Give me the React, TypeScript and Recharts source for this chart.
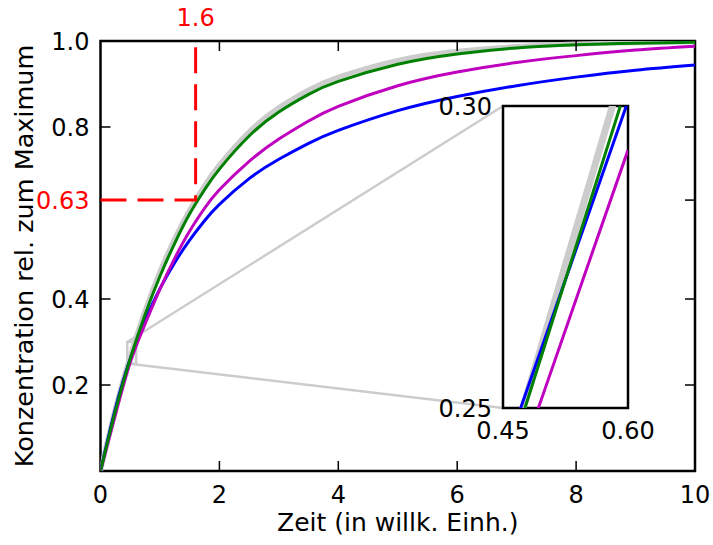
import { LineChart, Line, XAxis, YAxis, ReferenceArea, CartesianGrid } from "recharts";

// time axis (willk. Einh.) and the four curves
const TIME = [0, 0.25, 0.5, 0.75, 1, 1.25, 1.5, 1.75, 2, 2.5, 3, 3.5, 4, 5, 6, 7, 8, 9, 10];
const GRAY = [0, 0.145, 0.267, 0.373, 0.464, 0.541, 0.607, 0.664, 0.712, 0.789, 0.845, 0.886, 0.916, 0.955, 0.976, 0.987, 0.993, 0.996, 0.998];
const GREEN = [0, 0.14, 0.261, 0.364, 0.453, 0.53, 0.598, 0.654, 0.702, 0.779, 0.835, 0.876, 0.906, 0.946, 0.97, 0.984, 0.991, 0.995, 0.997];
const MAGENTA = [0, 0.13, 0.252, 0.342, 0.423, 0.495, 0.558, 0.611, 0.654, 0.72, 0.772, 0.814, 0.848, 0.896, 0.928, 0.95, 0.966, 0.979, 0.988];
const BLUE = [0, 0.145, 0.261, 0.35, 0.424, 0.485, 0.537, 0.582, 0.62, 0.68, 0.725, 0.762, 0.792, 0.838, 0.871, 0.896, 0.916, 0.932, 0.944];

// zoomed window (inset)
const ZOOM_T = [0.45, 0.5, 0.55, 0.6];
const ZOOM_GRAY = [0.2388, 0.2621, 0.2854, 0.3087];
const ZOOM_GREEN = [0.2385, 0.2603, 0.2822, 0.304];
const ZOOM_MAGENTA = [0.2332, 0.253, 0.2729, 0.2927];
const ZOOM_BLUE = [0.2416, 0.2614, 0.2811, 0.3008];
const ZOOM_X = [0.45, 0.6];
const ZOOM_Y = [0.25, 0.3];

// ticks + 63 % marker
const X_TICKS = [0, 2, 4, 6, 8, 10];
const Y_TICKS = [0.2, 0.4, 0.63, 0.8, 1.0];
const MARK_T = 1.6;
const MARK_V = 0.63;

const FONT = "'DejaVu Sans', sans-serif";
const GRAY_C = "#cccccc";
const GREEN_C = "#008000";
const MAGENTA_C = "#bf00bf";
const BLUE_C = "#0000ff";
const RED = "#ff0000";

// layout of the main axes (page pixels)
const PL = 100.5, PR = 695, PT = 41, PB = 471;
const sx = (t: number) => PL + (t / 10) * (PR - PL);
const sy = (v: number) => PB - v * (PB - PT);

// layout of the inset axes
const IL = 503, IR = 628, IT = 106, IB = 408;
const INSET_YW = 85;
const INSET_TOP = 14;
const INSET_XH = 40;
const INSET_RIGHT = 40;

const rows = TIME.map((t, i) => ({
  t,
  gray: GRAY[i],
  green: GREEN[i],
  magenta: MAGENTA[i],
  blue: BLUE[i],
}));

const zoomRows = ZOOM_T.map((t, i) => ({
  t,
  gray: ZOOM_GRAY[i],
  green: ZOOM_GREEN[i],
  magenta: ZOOM_MAGENTA[i],
  blue: ZOOM_BLUE[i],
}));

const markPath = [
  { t: 0, mark: MARK_V },
  { t: MARK_T, mark: MARK_V },
  { t: MARK_T, mark: 1 },
];

function BottomTick(props: any) {
  const { x, y, payload } = props;
  const v = payload.value;
  const inner = v !== 0 && v !== 10;
  return (
    <g>
      {inner && <line x1={x} y1={y} x2={x} y2={y - 10} stroke="#000" strokeWidth={1.5} />}
      {inner && <line x1={x} y1={PT} x2={x} y2={PT + 10} stroke="#000" strokeWidth={1.5} />}
      <text x={x} y={y + 32} textAnchor="middle" fontSize={24} fontFamily={FONT} fill="#000">
        {String(v)}
      </text>
    </g>
  );
}

function LeftTick(props: any) {
  const { x, y, payload } = props;
  const v = payload.value;
  const red = v === MARK_V;
  const c = red ? RED : "#000";
  const inner = v !== 1;
  return (
    <g>
      {inner && <line x1={x} y1={y} x2={x + 10} y2={y} stroke={c} strokeWidth={1.5} />}
      {inner && <line x1={PR} y1={y} x2={PR - 10} y2={y} stroke="#000" strokeWidth={1.5} />}
      <text x={x - 11} y={y} dy="0.36em" textAnchor="end" fontSize={24} fontFamily={FONT} fill={c}>
        {v === 1 ? "1.0" : String(v)}
      </text>
    </g>
  );
}

function InsetLeftTick(props: any) {
  const { x, y, payload } = props;
  return (
    <text x={x - 11} y={y} dy="0.36em" textAnchor="end" fontSize={24} fontFamily={FONT} fill="#000">
      {payload.value.toFixed(2)}
    </text>
  );
}

function InsetBottomTick(props: any) {
  const { x, y, payload } = props;
  return (
    <text x={x} y={y + 31} textAnchor="middle" fontSize={24} fontFamily={FONT} fill="#000">
      {payload.value.toFixed(2)}
    </text>
  );
}

export default function App() {
  const rx0 = sx(ZOOM_X[0]);
  const rx1 = sx(ZOOM_X[1]);
  const ry0 = sy(ZOOM_Y[0]);
  const ry1 = sy(ZOOM_Y[1]);
  const insetW = INSET_YW + (IR - IL) + INSET_RIGHT;
  const insetH = INSET_TOP + (IB - IT) + INSET_XH;

  return (
    <div style={{ position: "absolute", left: 0, top: 0, width: 713, height: 545, background: "#fff" }}>
      {/* annotations under the main chart: zoom box, connectors, labels */}
      <svg width={713} height={545} style={{ position: "absolute", left: 0, top: 0 }}>
        <rect x={rx0} y={ry1} width={rx1 - rx0} height={ry0 - ry1} fill="none" stroke={GRAY_C} strokeWidth={2.5} />
        <line x1={rx0} y1={ry1} x2={IL} y2={IT} stroke={GRAY_C} strokeWidth={2.5} />
        <line x1={rx0} y1={ry0} x2={IL} y2={IB} stroke={GRAY_C} strokeWidth={2.5} />
        <text x={sx(MARK_T)} y={26} textAnchor="middle" fontSize={24} fontFamily={FONT} fill={RED}>
          {String(MARK_T)}
        </text>
        <text x={(PL + PR) / 2} y={531} textAnchor="middle" fontSize={25} fontFamily={FONT} fill="#000">
          Zeit (in willk. Einh.)
        </text>
        <text
          x={33}
          y={(PT + PB) / 2}
          textAnchor="middle"
          fontSize={25.5}
          fontFamily={FONT}
          fill="#000"
          transform={`rotate(-90 33 ${(PT + PB) / 2})`}
        >
          Konzentration rel. zum Maximum
        </text>
      </svg>

      <div style={{ position: "absolute", left: 0, top: 0 }}>
        <LineChart width={713} height={545} data={rows} margin={{ top: PT, right: 713 - PR, bottom: 545 - PB - 30, left: 0 }}>
          <XAxis
            dataKey="t"
            type="number"
            domain={[0, 10]}
            allowDataOverflow
            ticks={X_TICKS}
            interval={0}
            height={30}
            axisLine={false}
            tickLine={false}
            tickSize={0}
            tickMargin={0}
            tick={BottomTick}
          />
          <YAxis
            type="number"
            domain={[0, 1]}
            allowDataOverflow
            ticks={Y_TICKS}
            interval={0}
            width={PL}
            axisLine={false}
            tickLine={false}
            tickSize={0}
            tickMargin={0}
            tick={LeftTick}
          />
          <ReferenceArea x1={0} x2={10} y1={0} y2={1} fill="none" stroke="#000" strokeWidth={2.5} ifOverflow="visible" />
          <Line type="natural" dataKey="gray" stroke={GRAY_C} strokeWidth={5} dot={false} isAnimationActive={false} />
          <Line type="natural" dataKey="blue" stroke={BLUE_C} strokeWidth={3} dot={false} isAnimationActive={false} />
          <Line type="natural" dataKey="magenta" stroke={MAGENTA_C} strokeWidth={3} dot={false} isAnimationActive={false} />
          <Line type="natural" dataKey="green" stroke={GREEN_C} strokeWidth={3} dot={false} isAnimationActive={false} />
          <Line
            data={markPath}
            type="linear"
            dataKey="mark"
            stroke={RED}
            strokeWidth={3}
            strokeDasharray="26 11"
            dot={false}
            isAnimationActive={false}
          />
        </LineChart>
      </div>

      {/* inset */}
      <div style={{ position: "absolute", left: IL - INSET_YW, top: IT - INSET_TOP }}>
        <LineChart
          width={insetW}
          height={insetH}
          data={zoomRows}
          margin={{ top: INSET_TOP, right: INSET_RIGHT, bottom: 0, left: 0 }}
        >
          <CartesianGrid fill="#fff" horizontal={false} vertical={false} />
          <XAxis
            dataKey="t"
            type="number"
            domain={[ZOOM_X[0], ZOOM_X[1]]}
            allowDataOverflow
            ticks={ZOOM_X}
            interval={0}
            height={INSET_XH}
            axisLine={false}
            tickLine={false}
            tickSize={0}
            tickMargin={0}
            tick={InsetBottomTick}
          />
          <YAxis
            type="number"
            domain={[ZOOM_Y[0], ZOOM_Y[1]]}
            allowDataOverflow
            ticks={ZOOM_Y}
            interval={0}
            width={INSET_YW}
            axisLine={false}
            tickLine={false}
            tickSize={0}
            tickMargin={0}
            tick={InsetLeftTick}
          />
          <Line type="linear" dataKey="gray" stroke={GRAY_C} strokeWidth={7} dot={false} isAnimationActive={false} />
          <Line type="linear" dataKey="blue" stroke={BLUE_C} strokeWidth={3} dot={false} isAnimationActive={false} />
          <Line type="linear" dataKey="magenta" stroke={MAGENTA_C} strokeWidth={3} dot={false} isAnimationActive={false} />
          <Line type="linear" dataKey="green" stroke={GREEN_C} strokeWidth={3} dot={false} isAnimationActive={false} />
          <ReferenceArea
            x1={ZOOM_X[0]}
            x2={ZOOM_X[1]}
            y1={ZOOM_Y[0]}
            y2={ZOOM_Y[1]}
            fill="none"
            stroke="#000"
            strokeWidth={2.5}
            ifOverflow="visible"
          />
        </LineChart>
      </div>
    </div>
  );
}
